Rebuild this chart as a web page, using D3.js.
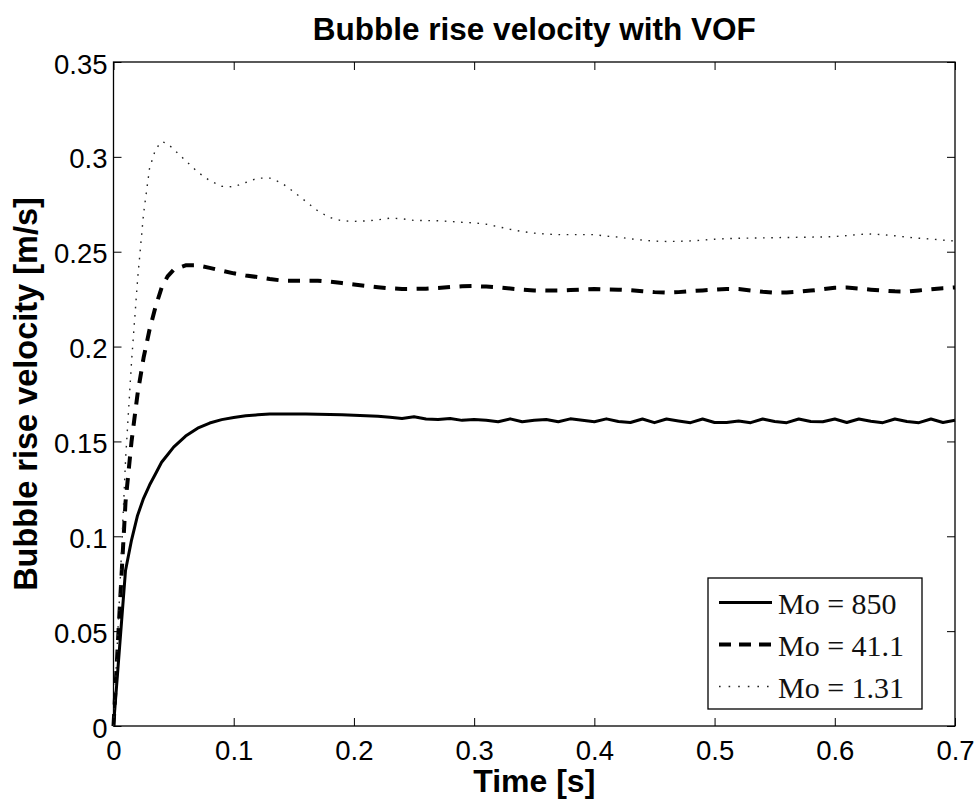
<!DOCTYPE html>
<html>
<head>
<meta charset="utf-8">
<script src="https://cdn.jsdelivr.net/npm/d3@7"></script>
<style>
  body { margin: 0; background: #fff; }
  svg { display: block; }
</style>
</head>
<body>
<div class="chart"></div>
<script>
// time samples [s]
var time = [0, 0.005, 0.01, 0.015, 0.02, 0.025, 0.03, 0.035, 0.04, 0.045, 0.05,
    0.06, 0.07, 0.08, 0.09, 0.10, 0.11, 0.12, 0.13, 0.14,
    0.15, 0.16, 0.17, 0.18, 0.19, 0.20, 0.21, 0.22, 0.23, 0.24,
    0.25, 0.26, 0.27, 0.28, 0.29, 0.30, 0.31, 0.32, 0.33, 0.34,
    0.35, 0.36, 0.37, 0.38, 0.39, 0.40, 0.41, 0.42, 0.43, 0.44,
    0.45, 0.46, 0.47, 0.48, 0.49, 0.50, 0.51, 0.52, 0.53, 0.54,
    0.55, 0.56, 0.57, 0.58, 0.59, 0.60, 0.61, 0.62, 0.63, 0.64,
    0.65, 0.66, 0.67, 0.68, 0.69, 0.70];

var mo850 = [0, 0.041, 0.082, 0.098, 0.111, 0.120, 0.127, 0.133, 0.139, 0.143, 0.147,
    0.1528, 0.157, 0.1597, 0.1615, 0.1626, 0.1635, 0.164, 0.1645, 0.1644,
    0.1645, 0.1644, 0.1643, 0.1642, 0.1641, 0.1638, 0.1635, 0.1633, 0.1628, 0.1621,
    0.1630, 0.1618, 0.1615, 0.1621, 0.1611, 0.1616, 0.1612, 0.1604, 0.1619, 0.1604,
    0.1612, 0.1616, 0.1604, 0.1619, 0.1612, 0.1604, 0.1619, 0.1605, 0.1600, 0.1618,
    0.1599, 0.1618, 0.1608, 0.1599, 0.1618, 0.1600, 0.1600, 0.1608, 0.1599, 0.1618,
    0.1605, 0.1599, 0.1618, 0.1605, 0.1604, 0.1618, 0.1600, 0.1618, 0.1606, 0.1599,
    0.1618, 0.1605, 0.1599, 0.1618, 0.1600, 0.1612];

var mo41 = [0, 0.06, 0.118, 0.150, 0.175, 0.194, 0.209, 0.221, 0.231, 0.237, 0.2405,
    0.2428, 0.2428, 0.2415, 0.240, 0.2386, 0.2375, 0.2366, 0.2356, 0.2348,
    0.2347, 0.2347, 0.2347, 0.2342, 0.2335, 0.2327, 0.2320, 0.2313, 0.2307, 0.2304,
    0.2304, 0.2305, 0.2309, 0.2314, 0.2318, 0.2319, 0.2316, 0.2312, 0.2306, 0.2300,
    0.2296, 0.2295, 0.2295, 0.2298, 0.2301, 0.2303, 0.2301, 0.2300, 0.2297, 0.2292,
    0.2287, 0.2284, 0.2287, 0.2292, 0.2296, 0.2300, 0.2304, 0.2303, 0.2296, 0.2289,
    0.2284, 0.2285, 0.2289, 0.2295, 0.2302, 0.2310, 0.2311, 0.2306, 0.2300, 0.2295,
    0.2291, 0.2290, 0.2296, 0.2302, 0.2308, 0.2312];

var mo131 = [0, 0.068, 0.14, 0.192, 0.235, 0.27, 0.294, 0.304, 0.308, 0.307, 0.304,
    0.298, 0.292, 0.2875, 0.2845, 0.2842, 0.2865, 0.2888, 0.2888, 0.2862,
    0.2815, 0.2765, 0.2715, 0.268, 0.2663, 0.266, 0.2662, 0.2668, 0.2677, 0.2674,
    0.2665, 0.2664, 0.2663, 0.266, 0.2655, 0.2652, 0.2645, 0.2632, 0.2618, 0.2606,
    0.2598, 0.2593, 0.259, 0.259, 0.259, 0.259, 0.2582, 0.2577, 0.2568, 0.2561,
    0.2556, 0.2554, 0.2555, 0.2557, 0.2561, 0.2566, 0.2569, 0.2571, 0.2572, 0.2573,
    0.2574, 0.2575, 0.2576, 0.2577, 0.2578, 0.258, 0.2585, 0.2591, 0.2593, 0.259,
    0.2584, 0.2577, 0.2571, 0.2567, 0.2561, 0.2556];

var seriesNames = [`Mo=850`, `Mo=41.1`, `Mo=1.31`];
var xTicks = [0, 0.1, 0.2, 0.3, 0.4, 0.5, 0.6, 0.7];
var yTicks = [0, 0.05, 0.1, 0.15, 0.2, 0.25, 0.3, 0.35];

var margin = {top: 62, bottom: 74, left: 113.5, right: 24};
var fullWidth = 979;
var fullHeight = 801;
var width = fullWidth - margin.left - margin.right;
var height = fullHeight - margin.top - margin.bottom - 1;

var sansFont = `"Liberation Sans", Arial, Helvetica, sans-serif`;
var serifFont = `"Liberation Serif", "Times New Roman", serif`;

var root = d3.select(`.chart`)
    .append(`svg`)
    .attr(`width`, fullWidth)
    .attr(`height`, fullHeight);

var svg = root.append(`g`)
    .attr(`transform`, `translate(${margin.left},${margin.top})`);

var xScale = d3.scaleLinear().domain([0, 0.7]).range([0, width]);
var yScale = d3.scaleLinear().domain([0, 0.35]).range([height, 0]);

function styleAxis(g) {
    g.select(`.domain`).remove();
    g.selectAll(`line`).attr(`stroke`, `#000`).attr(`stroke-width`, 1);
    g.selectAll(`text`)
        .attr(`fill`, `#000`)
        .style(`font-family`, sansFont)
        .style(`font-size`, `27.5px`);
}

// bottom axis, ticks pointing inward
svg.append(`g`)
    .attr(`transform`, `translate(0, ${height})`)
    .call(d3.axisBottom(xScale).tickValues(xTicks).tickSize(-8).tickPadding(14)
        .tickFormat(d3.format(`~g`)))
    .call(styleAxis);

svg.append(`g`)
    .call(d3.axisTop(xScale).tickValues(xTicks).tickSize(-8).tickFormat(``))
    .call(styleAxis);

svg.append(`g`)
    .call(d3.axisLeft(yScale).tickValues(yTicks).tickSize(-8).tickPadding(6)
        .tickFormat(d3.format(`~g`)))
    .call(styleAxis)
    .selectAll(`text`).attr(`dy`, `0.4em`);

svg.append(`g`)
    .attr(`transform`, `translate(${width}, 0)`)
    .call(d3.axisRight(yScale).tickValues(yTicks).tickSize(-8).tickFormat(``))
    .call(styleAxis);

// plot frame
svg.append(`rect`)
    .attr(`width`, width)
    .attr(`height`, height)
    .attr(`fill`, `none`)
    .attr(`stroke`, `#000`)
    .attr(`stroke-width`, 1.3);

var lineStyles = [
    {width: 3, dash: null, color: `#000`},
    {width: 4, dash: `12,9.5`, color: `#000`},
    {width: 1.4, dash: `1.6,6.6`, color: `#222`}
];

var curves = [mo850, mo41, mo131].map((vals, i) => ({
    name: seriesNames[i],
    style: lineStyles[i],
    points: time.map((t, j) => [t, vals[j]])
}));

var line = d3.line()
    .x(d => xScale(d[0]))
    .y(d => yScale(d[1]));

svg.selectAll(`.curve`)
    .data(curves)
    .enter()
    .append(`path`)
    .attr(`class`, `curve`)
    .attr(`d`, d => line(d.points))
    .attr(`fill`, `none`)
    .attr(`stroke`, d => d.style.color)
    .attr(`stroke-width`, d => d.style.width)
    .attr(`stroke-dasharray`, d => d.style.dash)
    .attr(`stroke-linejoin`, `round`);

// legend
var legend = root.append(`g`).attr(`transform`, `translate(708, 578)`);

legend.append(`rect`)
    .attr(`width`, 214)
    .attr(`height`, 131)
    .attr(`fill`, `#fff`)
    .attr(`stroke`, `#000`)
    .attr(`stroke-width`, 1.3);

var rows = legend.selectAll(`.row`)
    .data(curves)
    .enter()
    .append(`g`)
    .attr(`class`, `row`)
    .attr(`transform`, (d, i) => `translate(0, ${24.5 + i * 42})`);

rows.append(`line`)
    .attr(`x1`, 11)
    .attr(`x2`, 64)
    .attr(`stroke`, d => d.style.color)
    .attr(`stroke-width`, d => d.style.width)
    .attr(`stroke-dasharray`, d => d.style.dash ? (d.style.width > 2 ? `12,8` : `1.6,8`) : null);

rows.append(`text`)
    .attr(`x`, 70)
    .attr(`y`, 11)
    .style(`font-family`, serifFont)
    .style(`font-size`, `30px`)
    .attr(`fill`, `#111`)
    .text(d => d.name.replace(`=`, ` = `));

// title and axis labels
root.append(`text`)
    .attr(`x`, margin.left + width / 2)
    .attr(`y`, 40)
    .attr(`text-anchor`, `middle`)
    .style(`font-family`, sansFont)
    .style(`font-weight`, `bold`)
    .style(`font-size`, `31.5px`)
    .text(`Bubble rise velocity with VOF`);

root.append(`text`)
    .attr(`x`, margin.left + width / 2)
    .attr(`y`, 792)
    .attr(`text-anchor`, `middle`)
    .style(`font-family`, sansFont)
    .style(`font-weight`, `bold`)
    .style(`font-size`, `32px`)
    .text(`Time [s]`);

root.append(`text`)
    .attr(`transform`, `translate(37, ${margin.top + height / 2}) rotate(-90)`)
    .attr(`text-anchor`, `middle`)
    .style(`font-family`, sansFont)
    .style(`font-weight`, `bold`)
    .style(`font-size`, `32.5px`)
    .text(`Bubble rise velocity [m/s]`);
</script>
</body>
</html>
